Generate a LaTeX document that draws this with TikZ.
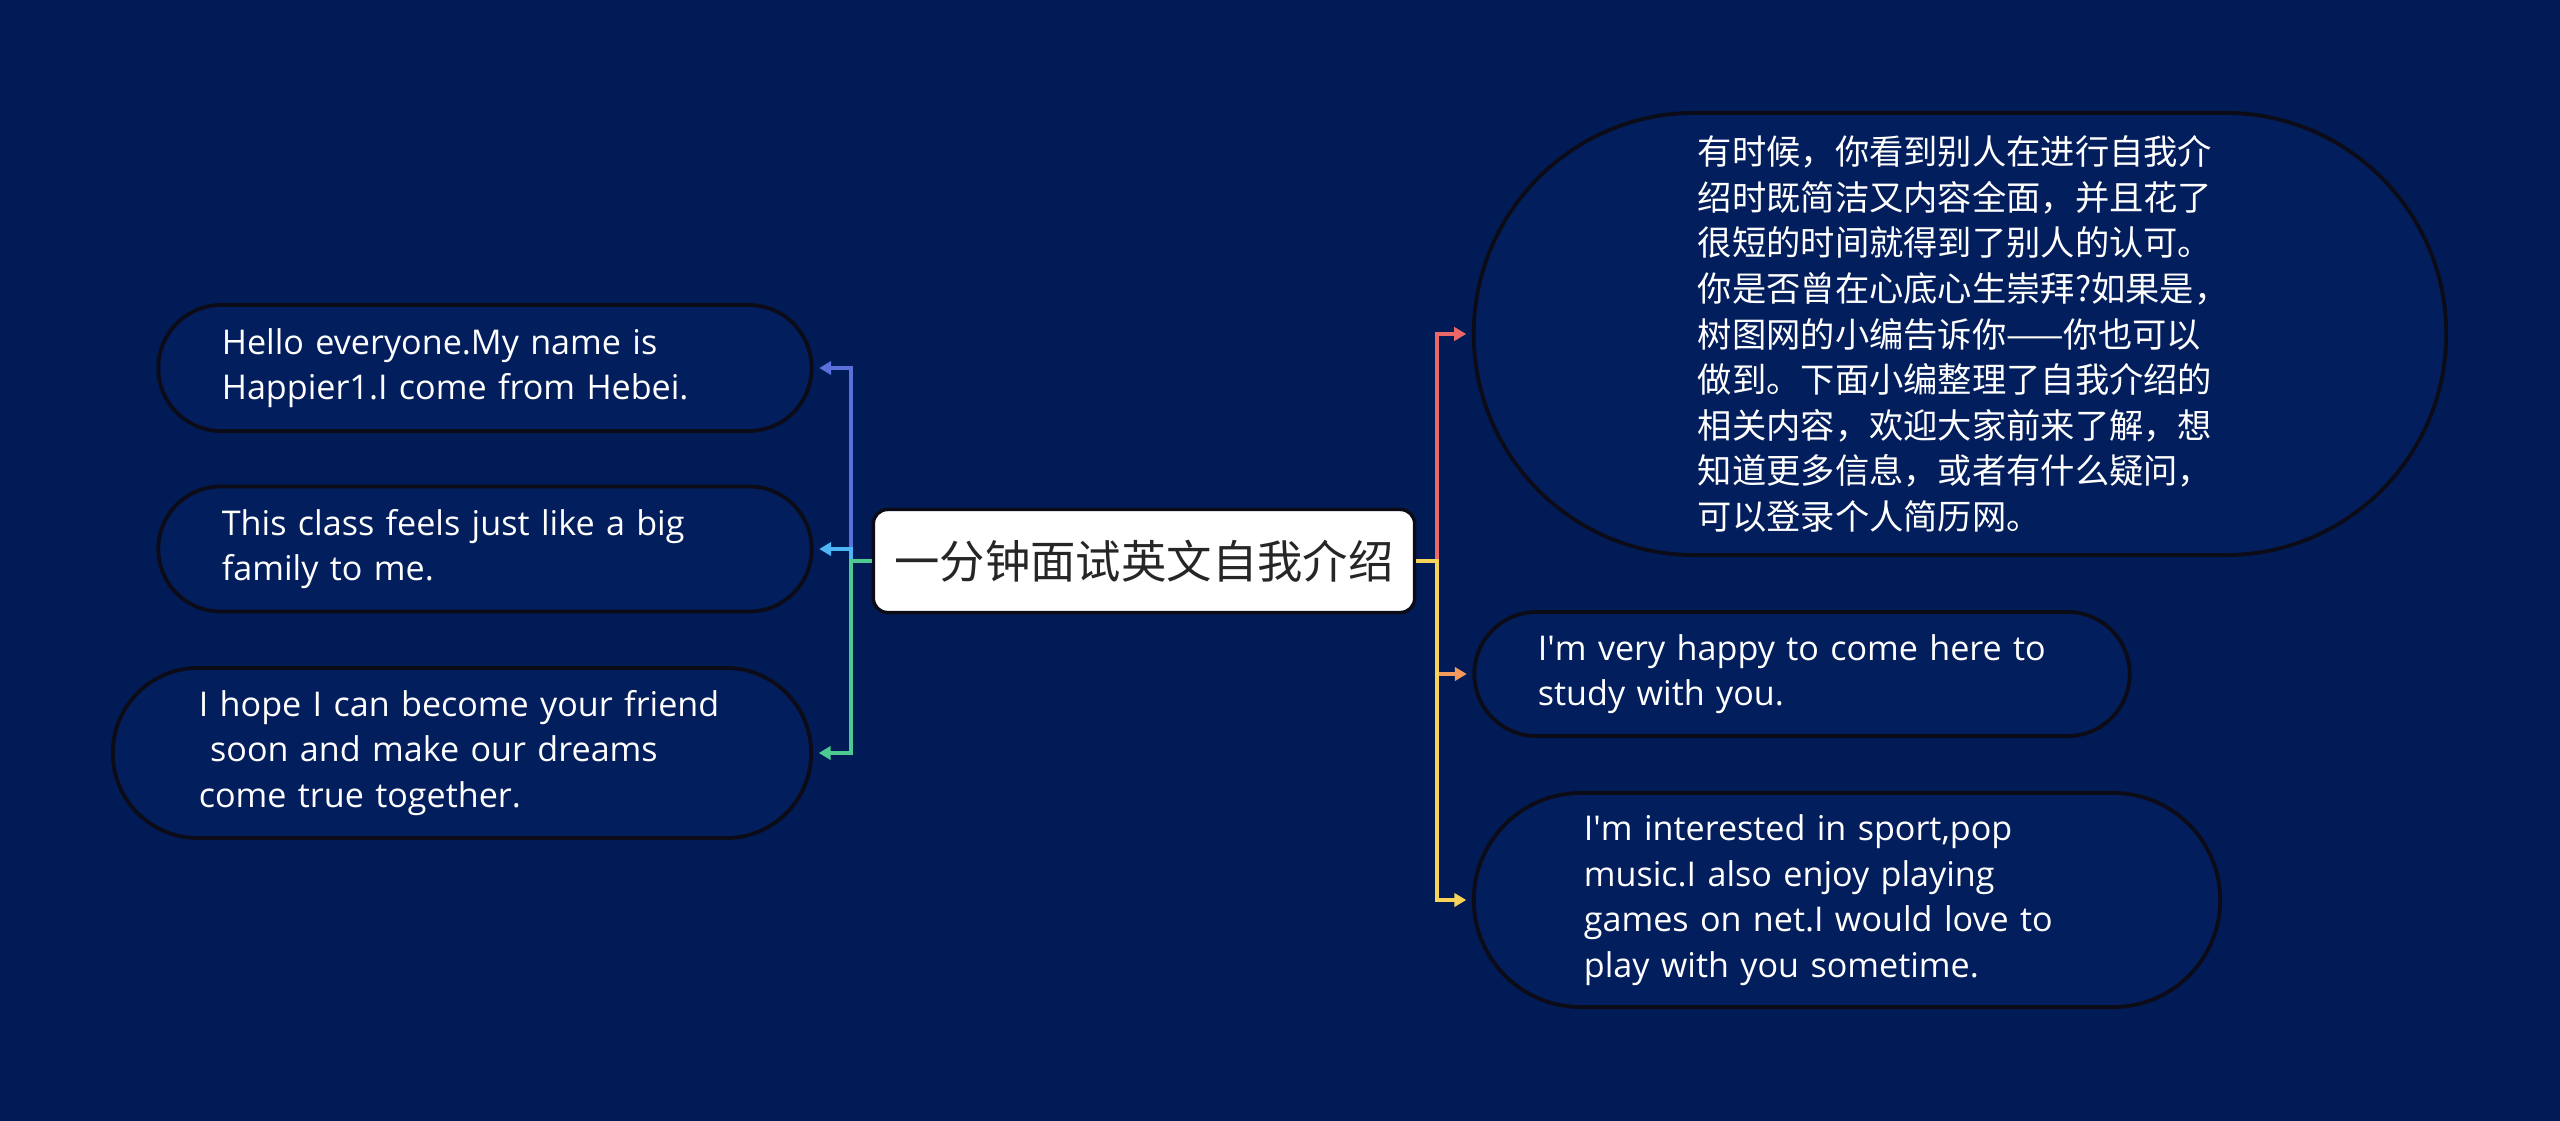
\documentclass[tikz,border=0pt]{standalone}
\usepackage{fontspec}
\setmainfont{Open Sans}
\newfontfamily\cjk{Noto Sans CJK SC}
\usetikzlibrary{shapes.misc, arrows.meta}
\definecolor{bgNavy}{RGB}{1, 27, 87}
\definecolor{boxNavy}{RGB}{3, 30, 92}
\definecolor{edgeDark}{RGB}{12, 12, 24}
\definecolor{linkA}{RGB}{92, 112, 220}
\definecolor{linkB}{RGB}{78, 182, 244}
\definecolor{linkC}{RGB}{76, 202, 145}
\definecolor{linkD}{RGB}{236, 104, 104}
\definecolor{linkE}{RGB}{243, 154, 92}
\definecolor{linkF}{RGB}{247, 211, 90}

\tikzset{
  pill/.style={rounded rectangle, draw=edgeDark, line width=1.1pt, fill=boxNavy,
    text=white, inner sep=0pt, align=left, text width=5.26cm,
    font=\fontsize{9.7pt}{13pt}\selectfont},
  branch/.style={line width=1.2pt, shorten >=1.6pt,
    -{Triangle[length=3.4pt, width=3.8pt]}},
}

\begin{document}
\begin{tikzpicture}[x=0.01cm, y=-0.01cm]
  \fill[bgNavy] (0,0) rectangle (2560,1121);
  \useasboundingbox (0,0) rectangle (2560,1121);

  \node[rectangle, rounded corners=4pt, draw=edgeDark, line width=1pt, fill=white,
    text=black!85, minimum width=5.41cm, minimum height=1.03cm,
    font=\cjk\fontsize{12.9pt}{14pt}\selectfont] (root) at (1144,561) {一分钟面试英文自我介绍};

  % left side
  \node[pill, minimum width=6.53cm, minimum height=1.26cm] (leftA) at (485,368)
    {Hello everyone.My name is\\Happier1.I come from Hebei.};
  \node[pill, minimum width=6.53cm, minimum height=1.25cm] (leftB) at (485,549)
    {This class feels just like a big\\family to me.};
  \node[pill, minimum width=6.98cm, minimum height=1.70cm] (leftC) at (462,753)
    {I hope I can become your friend\\\ soon and make our dreams\\come true together.};

  % right side
  \node[pill, minimum width=9.72cm, minimum height=4.42cm, text width=5.24cm,
    font=\cjk\fontsize{9.75pt}{12.95pt}\selectfont] (rightA) at (1960,334)
    {有时候，你看到别人在进行自我介\\绍时既简洁又内容全面，并且花了\\很短的时间就得到了别人的认可。\\你是否曾在心底心生崇拜?如果是，\\树图网的小编告诉你——你也可以\\做到。下面小编整理了自我介绍的\\相关内容，欢迎大家前来了解，想\\知道更多信息，或者有什么疑问，\\可以登录个人简历网。};
  \node[pill, minimum width=6.55cm, minimum height=1.24cm, text width=5.28cm] (rightB) at (1802,674)
    {I\textquotesingle m very happy to come here to\\study with you.};
  \node[pill, minimum width=7.46cm, minimum height=2.14cm] (rightC) at (1847,900)
    {I\textquotesingle m interested in sport,pop\\music.I also enjoy playing\\games on net.I would love to\\play with you sometime.};

  \coordinate (hubL) at (851,561);
  \coordinate (hubR) at (1437,561);

  \draw[branch, linkA] (root.west) -- (hubL) |- (leftA.east);
  \draw[branch, linkB] (root.west) -- (hubL) |- (leftB.east);
  \draw[branch, linkC] (root.west) -- (hubL) |- (leftC.east);
  \draw[branch, linkD] (root.east) -- (hubR) |- (rightA.west);
  \draw[branch, linkE] (root.east) -- (hubR) |- (rightB.west);
  \draw[branch, linkF] (root.east) -- (hubR) |- (rightC.west);
\end{tikzpicture}
\end{document}
